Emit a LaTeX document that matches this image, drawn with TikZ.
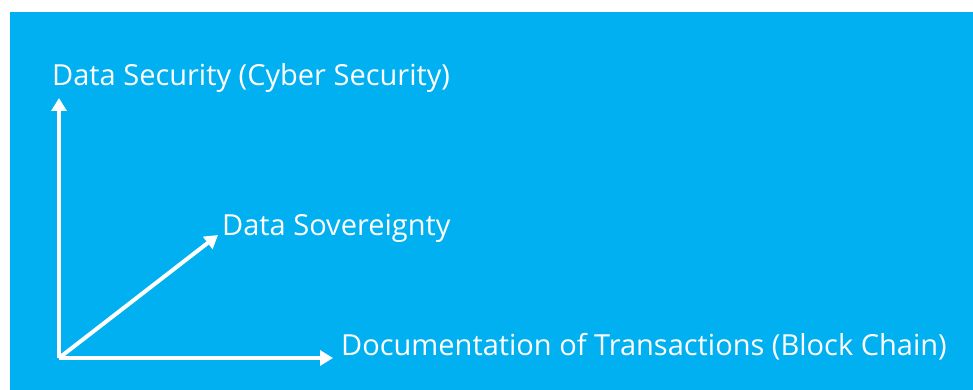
\documentclass[tikz,border=0pt]{standalone}
\usepackage{fontspec}
\setmainfont{Open Sans}
\usetikzlibrary{arrows.meta}
\definecolor{panelblue}{HTML}{00B0F0}
\begin{document}
\begin{tikzpicture}[x=1pt,y=-1pt,
  axis/.style={white, line width=4pt,
    -{Triangle[width=15pt,length=13pt]}},
  axislabel/.style={text=white, anchor=base west, inner sep=0pt,
    font=\fontsize{29}{34}\selectfont}]
  \useasboundingbox (0,0) rectangle (973,390);
  \fill[white] (0,0) rectangle (973,390);
  \fill[panelblue] (10,12) rectangle (973,390);
  % axes from the common origin
  \coordinate (O) at (59,358);
  \coordinate (up) at (59,98);
  \coordinate (diag) at (218,235);
  \coordinate (right) at (333,358);
  \draw[axis] (O) -- (up);
  \draw[axis] (O) -- (diag);
  \draw[axis] (O) -- (right);
  \node[axislabel] (sec) at (52,86) {Data Security (Cyber Security)};
  \node[axislabel] (sov) at (222,235) {Data Sovereignty};
  \node[axislabel] (doc) at (341,355) {Documentation of Transactions (Block Chain)};
\end{tikzpicture}
\end{document}
